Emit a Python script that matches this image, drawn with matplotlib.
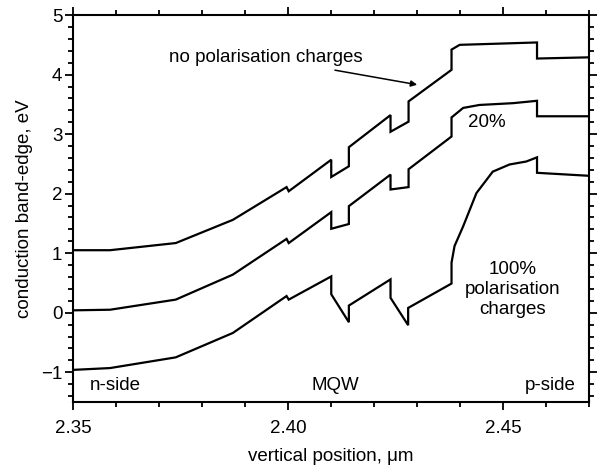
import matplotlib
matplotlib.use("Agg")
import matplotlib.pyplot as plt
from matplotlib.ticker import MultipleLocator

plt.rcParams['font.family'] = ['Liberation Sans', 'DejaVu Sans']

# Data (vertical position in um, conduction band-edge in eV)
x_none = [2.35, 2.3585, 2.3738, 2.3871, 2.3996, 2.4001, 2.41, 2.41, 2.4141, 2.4141,
          2.4238, 2.4238, 2.428, 2.428, 2.438, 2.438, 2.4399, 2.4445, 2.4579, 2.4579, 2.47]
y_none = [1.05, 1.05, 1.17, 1.56, 2.11, 2.04, 2.57, 2.28, 2.46, 2.78,
          3.32, 3.04, 3.21, 3.55, 4.08, 4.42, 4.50, 4.51, 4.54, 4.27, 4.29]

x_20 = [2.35, 2.3585, 2.3738, 2.3871, 2.3996, 2.4001, 2.41, 2.41, 2.4141, 2.4141,
        2.4238, 2.4238, 2.428, 2.428, 2.438, 2.438, 2.4407, 2.4445, 2.4523, 2.4579, 2.4579, 2.47]
y_20 = [0.04, 0.05, 0.22, 0.64, 1.24, 1.17, 1.69, 1.41, 1.49, 1.79,
        2.32, 2.07, 2.11, 2.41, 2.96, 3.28, 3.44, 3.49, 3.52, 3.56, 3.30, 3.30]

x_100 = [2.35, 2.3585, 2.3738, 2.3871, 2.3996, 2.4001, 2.41, 2.41, 2.4141, 2.4141,
         2.4238, 2.4238, 2.4279, 2.4279, 2.438, 2.438, 2.4387, 2.4407, 2.4438, 2.4476,
         2.4515, 2.4554, 2.4579, 2.4579, 2.47]
y_100 = [-0.96, -0.93, -0.75, -0.34, 0.28, 0.22, 0.61, 0.31, -0.16, 0.12,
         0.56, 0.25, -0.21, 0.08, 0.49, 0.84, 1.12, 1.45, 2.01, 2.37,
         2.49, 2.54, 2.61, 2.35, 2.30]

x_ticks = [2.35, 2.40, 2.45]
x_ticklabels = ["2.35", "2.40", "2.45"]
y_ticks = [-1, 0, 1, 2, 3, 4, 5]

FS = 13.5

fig = plt.figure(figsize=(5.99, 4.71), dpi=100)
ax = fig.add_axes([0.1227, 0.1465, 0.8606, 0.8215])

for xs, ys in [(x_none, y_none), (x_20, y_20), (x_100, y_100)]:
    ax.plot(xs, ys, color='black', lw=1.6, solid_joinstyle='miter')

ax.set_xlim(2.35, 2.47)
ax.set_ylim(-1.5, 5)
ax.set_xticks(x_ticks)
ax.set_xticklabels(x_ticklabels)
ax.set_yticks(y_ticks)
ax.xaxis.set_minor_locator(MultipleLocator(0.01))
ax.yaxis.set_minor_locator(MultipleLocator(0.2))
ax.tick_params(which='both', direction='out', top=True, right=True, width=1.3,
               labelsize=FS)
ax.tick_params(which='major', length=6)
ax.tick_params(which='minor', length=3.5)
ax.tick_params(axis='x', pad=7)
ax.tick_params(axis='y', pad=2)
for s in ax.spines.values():
    s.set_linewidth(1.5)

ax.set_xlabel("vertical position, μm", fontsize=FS, labelpad=8)
ax.set_ylabel("conduction band-edge, eV", fontsize=FS, labelpad=6)

ax.text(2.3537, -1.22, "n-side", fontsize=FS, ha='left', va='center')
ax.text(2.411, -1.22, "MQW", fontsize=FS, ha='center', va='center')
ax.text(2.4668, -1.22, "p-side", fontsize=FS, ha='right', va='center')
ax.text(2.4463, 3.19, "20%", fontsize=FS, ha='center', va='center')
ax.text(2.4522, 0.39, "100%\npolarisation\ncharges", fontsize=FS, ha='center',
        va='center', linespacing=1.25)
ax.annotate("no polarisation charges", xy=(2.4300, 3.83), xytext=(2.4173, 4.28),
            fontsize=FS, ha='right', va='center',
            arrowprops=dict(arrowstyle='-|>', color='black', lw=1.1,
                            mutation_scale=9, shrinkA=4, shrinkB=0))

fig.savefig("out.png", dpi=100)
